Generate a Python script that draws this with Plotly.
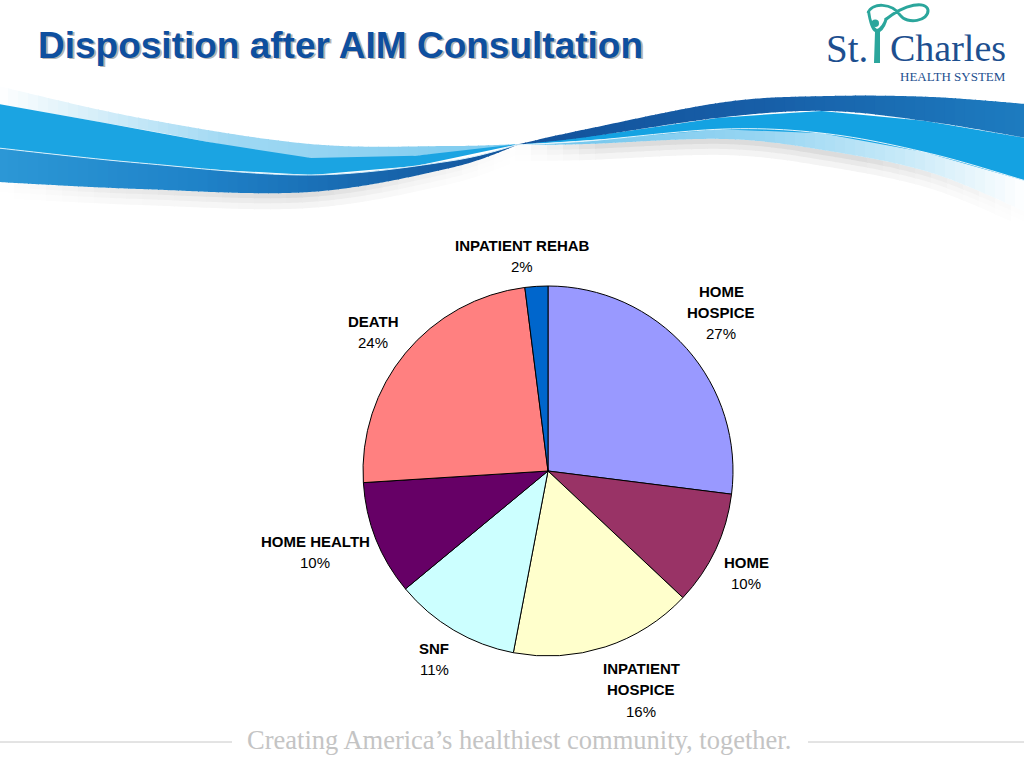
import numpy as np
import plotly.graph_objects as go

W, H = 1024, 768

# pie data, clockwise from 12 o'clock as on the slide
labels = ["HOME\nHOSPICE", "HOME", "INPATIENT\nHOSPICE", "SNF", "HOME HEALTH", "DEATH", "INPATIENT REHAB"]
values = [27, 10, 16, 11, 10, 24, 2]
colors = ["#9999FF", "#993366", "#FFFFCC", "#CCFFFF", "#660066", "#FF8080", "#0066CC"]

TITLE = "Disposition after AIM Consultation"
FOOTER = "Creating America\u2019s healthiest community, together."

# where each data label sits (pixel centre of its first line)
label_pos = [(721, 291), (746, 562), (641, 668), (434, 648), (315, 541), (373, 321), (522, 245)]
LINE_GAP = 21.5

# pie placement in pixels
CX, CY, R = 548, 471, 185


def to_paper(x, y):
    return x / W, 1 - y / H


def fmt(p):
    x, y = to_paper(*p)
    return f"{x:.5f},{y:.5f}"


def spline(pts, n=24):
    # catmull-rom through the points, sampled densely
    out = []
    k = len(pts)
    for i in range(k - 1):
        p0 = np.array(pts[i - 1] if i > 0 else pts[i], float)
        p1 = np.array(pts[i], float)
        p2 = np.array(pts[i + 1], float)
        p3 = np.array(pts[i + 2] if i + 2 < k else pts[i + 1], float)
        c1 = p1 + (p2 - p0) / 6
        c2 = p2 - (p3 - p1) / 6
        for t in np.linspace(0, 1, n, endpoint=(i == k - 2)):
            b = (1 - t) ** 3 * p1 + 3 * (1 - t) ** 2 * t * c1 + 3 * (1 - t) * t ** 2 * c2 + t ** 3 * p2
            out.append(b)
    arr = np.array(out)
    return arr[:, 0], arr[:, 1]


def edge_fn(pts, dy=0):
    xs, ys = spline(pts)
    return lambda x: np.interp(x, xs, ys) + dy


def mix(c1, c2, t):
    a = [int(c1[i:i + 2], 16) for i in (1, 3, 5)]
    b = [int(c2[i:i + 2], 16) for i in (1, 3, 5)]
    return "#" + "".join(f"{int(round(a[j] + (b[j] - a[j]) * t)):02x}" for j in range(3))


def color_at(stops, x):
    if x <= stops[0][0]:
        return stops[0][1]
    for (xa, ca), (xb, cb) in zip(stops, stops[1:]):
        if x <= xb:
            return mix(ca, cb, (x - xa) / (xb - xa))
    return stops[-1][1]


shapes = []


def band(top, bot, x0, x1, stops, step=10):
    # fill between two edges, in thin vertical slices so the colour can fade
    edges = np.arange(x0, x1, step).tolist() + [x1]
    for xa, xb in zip(edges, edges[1:]):
        xs = np.linspace(xa, min(xb + 1, x1), 6)
        up = [(x, top(x)) for x in xs]
        dn = [(x, bot(x)) for x in xs[::-1]]
        path = "M " + " L ".join(fmt(p) for p in up + dn) + " Z"
        shapes.append(dict(type="path", xref="paper", yref="paper", path=path,
                           fillcolor=color_at(stops, (xa + xb) / 2),
                           line=dict(width=0), layer="below"))


def polyline(fn, x0, x1, color, width):
    xs = np.linspace(x0, x1, 60)
    path = "M " + " L ".join(fmt((x, fn(x))) for x in xs)
    shapes.append(dict(type="path", xref="paper", yref="paper", path=path,
                       line=dict(color=color, width=width), layer="below"))


# ---- blue swoosh (decoration) ----
L_top = [(-2, 86), (140, 118), (310, 144), (450, 146), (520, 144)]
L_b1 = [(-2, 104), (140, 129), (310, 158), (450, 153), (520, 144)]
L_b2 = [(-2, 148), (140, 163), (310, 175), (450, 161), (520, 144)]
L_bot = [(-2, 182), (140, 189), (310, 192), (450, 168), (520, 144)]

R_top = [(515, 145), (587, 129), (725, 102), (829, 96), (932, 97), (1026, 104)]
R_b1 = [(515, 145), (587, 137), (725, 117), (829, 111), (932, 122), (1026, 138)]
R_b2 = [(515, 145), (587, 141), (725, 129), (829, 134), (932, 154), (1026, 181)]
R_bot = [(515, 145), (587, 144), (725, 139), (829, 151), (932, 173), (1026, 212)]

# soft shadows
lb = edge_fn(L_bot)
rb = edge_fn(R_bot)
for d, c in [(16, "#f4f4f4"), (10, "#e9e9e9"), (5, "#dcdcdc")]:
    band(lb, edge_fn(L_bot, d), -2, 520, [(-2, "#ffffff"), (120, mix("#ffffff", c, 0.6)), (300, c), (520, "#ffffff")], step=16)
    band(rb, edge_fn(R_bot, d), 515, 1026, [(515, "#ffffff"), (600, c), (860, c), (1026, "#ffffff")], step=16)

band(edge_fn(L_top), edge_fn(L_b1), -2, 520,
     [(-2, "#ffffff"), (60, "#e4f4fb"), (230, "#9fd8f3"), (520, "#7ccbef")])
band(edge_fn(L_b1), edge_fn(L_b2), -2, 520, [(-2, "#1ea3e0"), (520, "#18a6e4")], step=530)
band(edge_fn(L_b2), lb, -2, 520,
     [(-2, "#2c98d6"), (200, "#1f82c8"), (380, "#1766ad"), (520, "#13539b")])
polyline(edge_fn(L_b2), -2, 520, "#d8f0fb", 1)

band(edge_fn(R_b2), rb, 515, 1026,
     [(515, "#6cc3ec"), (760, "#97d5f2"), (900, "#c6e9f8"), (1026, "#ffffff")])
band(edge_fn(R_b1), edge_fn(R_b2), 515, 1026, [(515, "#14a2e2"), (1026, "#14a2e2")], step=530)
band(edge_fn(R_top), edge_fn(R_b1), 515, 1026,
     [(515, "#12529b"), (760, "#175ea7"), (1026, "#1d7cc0")])
polyline(edge_fn(R_b2), 515, 1026, "#e4f5fc", 1)

# ---- logo figure (teal) ----
TEAL = "#2ba69c"
shapes.append(dict(type="circle", xref="paper", yref="paper",
                   x0=871.5 / W, x1=879 / W, y0=1 - 27 / H, y1=1 - 19.5 / H,
                   fillcolor=TEAL, line=dict(width=0)))
shapes.append(dict(type="path", xref="paper", yref="paper",
                   path="M " + fmt((867, 11)) + " Q " + fmt((870, 30)) + " " + fmt((875, 32))
                   + " L " + fmt((874, 63)) + " L " + fmt((880, 63)) + " L " + fmt((880, 32))
                   + " Q " + fmt((886, 28)) + " " + fmt((888, 17)) + " L " + fmt((885, 18))
                   + " Q " + fmt((882, 27)) + " " + fmt((877, 29)) + " Q " + fmt((872, 27)) + " " + fmt((870, 11)) + " Z",
                   fillcolor=TEAL, line=dict(width=0)))
shapes.append(dict(type="path", xref="paper", yref="paper",
                   path="M " + fmt((868, 13)) + " C " + fmt((872, 2)) + " " + fmt((892, 3)) + " " + fmt((900, 15))
                   + " C " + fmt((907, 25)) + " " + fmt((929, 21)) + " " + fmt((928, 10))
                   + " C " + fmt((926, 1)) + " " + fmt((906, 3)) + " " + fmt((885, 20)),
                   line=dict(color=TEAL, width=3)))

# footer rules
shapes.append(dict(type="line", xref="paper", yref="paper", x0=0, x1=232 / W,
                   y0=1 - 742 / H, y1=1 - 742 / H, line=dict(color="#c8c8c8", width=1)))
shapes.append(dict(type="line", xref="paper", yref="paper", x0=808 / W, x1=1,
                   y0=1 - 742 / H, y1=1 - 742 / H, line=dict(color="#c8c8c8", width=1)))

fig = go.Figure()
fig.add_trace(go.Pie(
    labels=[l.replace("\n", " ") for l in labels],
    values=values,
    marker=dict(colors=colors, line=dict(color="#000000", width=1)),
    sort=False,
    direction="clockwise",
    rotation=0,
    textinfo="none",
    hoverinfo="label+percent",
    domain=dict(x=[(CX - R) / W, (CX + R) / W], y=[1 - (CY + R) / H, 1 - (CY - R) / H]),
    showlegend=False,
))

ann = []
total = sum(values)
for lab, v, (x, y) in zip(labels, values, label_pos):
    lines = lab.split("\n")
    for i, ln in enumerate(lines):
        ann.append(dict(x=x / W, y=1 - (y + i * LINE_GAP) / H, xref="paper", yref="paper",
                        text=f"<b>{ln}</b>", showarrow=False, xanchor="center", yanchor="middle",
                        font=dict(family="Liberation Sans, Arial", size=15, color="#000000")))
    ann.append(dict(x=x / W, y=1 - (y + len(lines) * LINE_GAP) / H, xref="paper", yref="paper",
                    text=f"{round(100 * v / total)}%", showarrow=False, xanchor="center", yanchor="middle",
                    font=dict(family="Liberation Sans, Arial", size=15, color="#000000")))

# title with its drop shadow
for dx, dy, col in [(2, 2, "#b4b4b4"), (0, 0, "#0e4f9f")]:
    ann.append(dict(x=(36 + dx) / W, y=1 - (45 + dy) / H, xref="paper", yref="paper",
                    text=f"<b>{TITLE}</b>", showarrow=False, xanchor="left", yanchor="middle",
                    font=dict(family="Liberation Sans, Arial", size=37, color=col)))

# logo text
ann.append(dict(x=870 / W, y=1 - 48 / H, xref="paper", yref="paper", text="St.",
                showarrow=False, xanchor="right", yanchor="middle",
                font=dict(family="Liberation Serif, Times New Roman", size=39, color="#1d4f8f")))
ann.append(dict(x=888 / W, y=1 - 48 / H, xref="paper", yref="paper", text="Charles",
                showarrow=False, xanchor="left", yanchor="middle",
                font=dict(family="Liberation Serif, Times New Roman", size=38, color="#1d4f8f")))
ann.append(dict(x=1008 / W, y=1 - 77 / H, xref="paper", yref="paper", text="HEALTH SYSTEM",
                showarrow=False, xanchor="right", yanchor="middle",
                font=dict(family="Liberation Serif, Times New Roman", size=13, color="#1d4f8f")))

# footer
ann.append(dict(x=519 / W, y=1 - 740 / H, xref="paper", yref="paper", text=FOOTER,
                showarrow=False, xanchor="center", yanchor="middle",
                font=dict(family="Liberation Serif, Times New Roman", size=26.5, color="#c4c4c4")))

fig.update_layout(
    width=W, height=H,
    margin=dict(l=0, r=0, t=0, b=0),
    paper_bgcolor="#ffffff",
    plot_bgcolor="#ffffff",
    shapes=shapes,
    annotations=ann,
)

# the page's default 8px body margin would push the slide off the window
fig.write_html("out.html", config=dict(displayModeBar=False),
               post_script="document.body.style.margin='0px';")
